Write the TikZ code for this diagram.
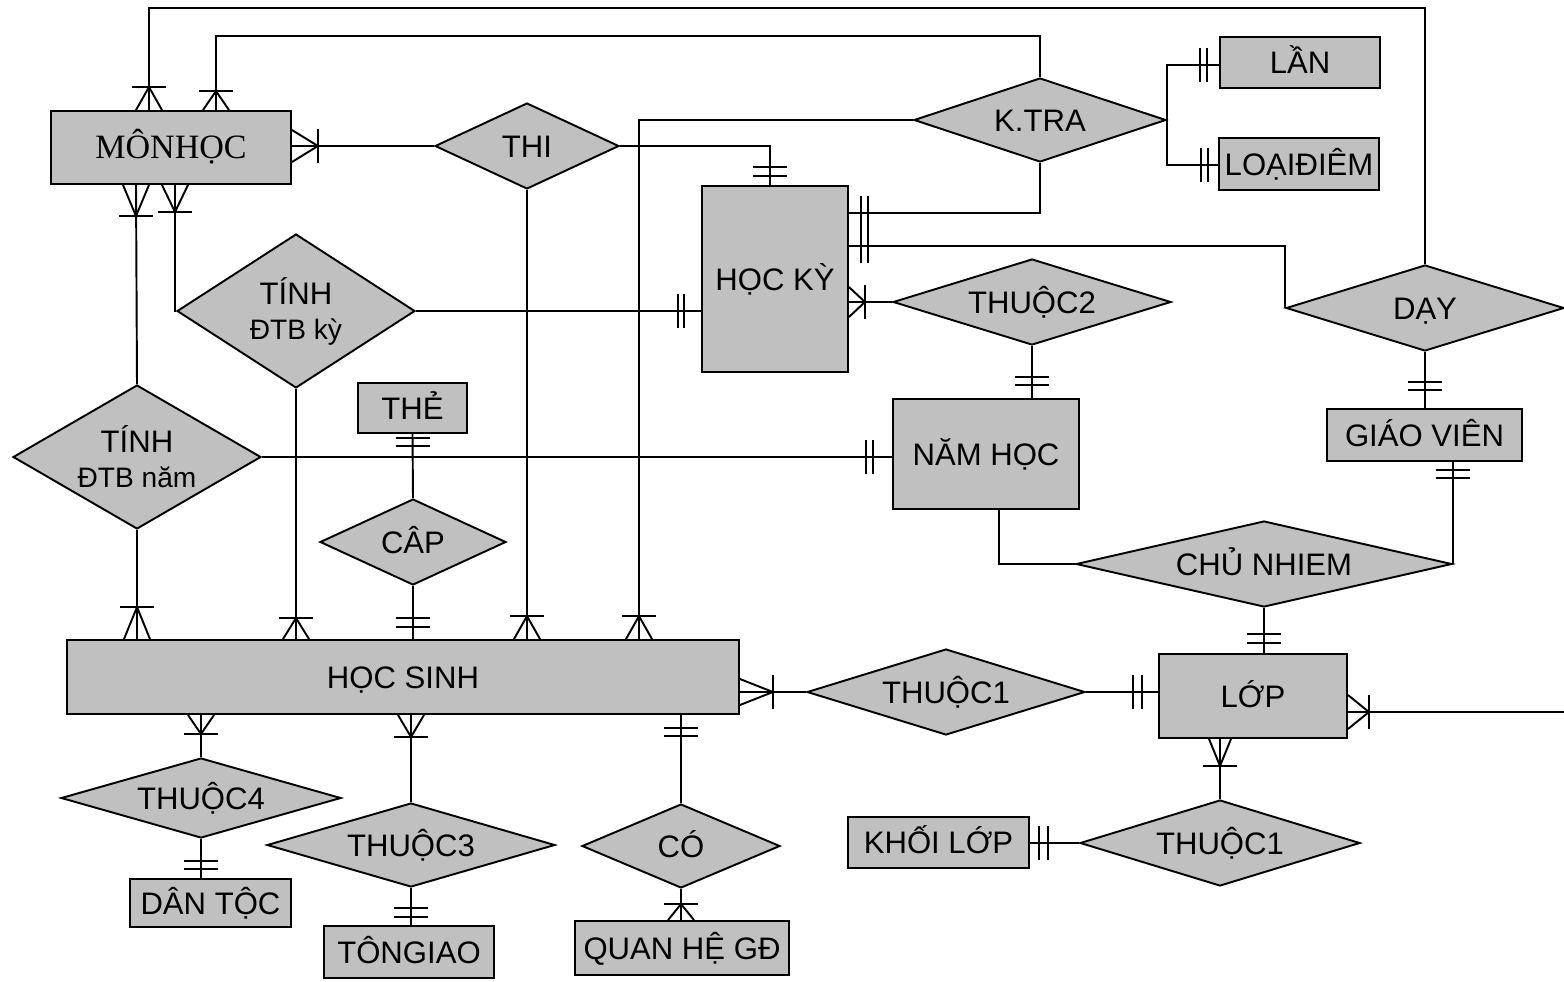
\documentclass[tikz,border=0pt]{standalone}
\usepackage{fontspec}
\setmainfont{Liberation Sans}
\newfontfamily\serifA{Liberation Serif}
\usetikzlibrary{shapes.geometric}
\definecolor{boxgray}{RGB}{192,192,192}
\def\cfL{24}\def\cfW{13}\def\cfA{13}\def\cfB{21}
\tikzset{
  cfl/.code={\def\cfL{#1}},
  cfw/.code={\def\cfW{#1}},
  cfa/.code={\def\cfA{#1}},
  cfb/.code={\def\cfB{#1}},
  cfmany/.pic={\draw (0,-\cfW) -- (\cfL,0) -- (0,\cfW); \draw (\cfL,-17) -- (\cfL,17);},
  cfone/.pic={\draw (\cfA,-17) -- (\cfA,17); \draw (\cfB,-17) -- (\cfB,17);},
  capcenter/.style={text height=12.7pt, text depth=0pt},
  ent/.style={draw, fill=boxgray, rectangle, inner sep=0pt, capcenter, font=\fontsize{17.7}{21}\selectfont},
  rel/.style={draw, fill=boxgray, diamond, inner sep=0pt, font=\fontsize{17.7}{21}\selectfont},
}
\begin{document}
\begin{tikzpicture}[x=0.02cm, y=-0.02cm, line width=1.1pt]
\useasboundingbox (0,0) rectangle (1564,981);

% entities
\node[ent, minimum width=4.8cm, minimum height=1.46cm, font=\serifA\fontsize{19.4}{22}\selectfont] (mh) at (171,147.5) {MÔNHỌC};
\node[ent, minimum width=2.92cm, minimum height=3.72cm] (hk) at (775,279) {HỌC KỲ};
\node[ent, minimum width=3.72cm, minimum height=2.2cm] (nh) at (986,454) {NĂM HỌC};
\node[ent, minimum width=3.2cm, minimum height=1.02cm] (lan) at (1300,62.5) {LẦN};
\node[ent, minimum width=3.2cm, minimum height=1.04cm] (ld) at (1299,164) {LOẠIĐIÊM};
\node[ent, minimum width=3.9cm, minimum height=1.04cm] (gv) at (1424.5,435) {GIÁO VIÊN};
\node[ent, minimum width=2.18cm, minimum height=1.0cm] (the) at (412.5,408) {THẺ};
\node[ent, minimum width=13.44cm, minimum height=1.48cm] (hs) at (403,677) {HỌC SINH};
\node[ent, minimum width=3.76cm, minimum height=1.68cm] (lop) at (1253,696) {LỚP};
\node[ent, minimum width=3.22cm, minimum height=0.96cm] (dt) at (210.5,903) {DÂN TỘC};
\node[ent, minimum width=3.4cm, minimum height=1.04cm] (tg) at (409,952) {TÔNGIAO};
\node[ent, minimum width=4.28cm, minimum height=1.08cm] (qh) at (682,948) {QUAN HỆ GĐ};
\node[ent, minimum width=3.62cm, minimum height=1.02cm] (kl) at (938.5,842.5) {KHỐI LỚP};

% relationships
\node[rel, capcenter, aspect=2.14, minimum width=3.68cm, minimum height=1.72cm] (thi) at (527,146) {THI};
\node[rel, capcenter, aspect=3.0, minimum width=5.04cm, minimum height=1.68cm] (ktra) at (1040,120) {K.TRA};
\node[rel, aspect=1.55, minimum width=4.76cm, minimum height=3.08cm, align=center] (tdk) at (296,311) {TÍNH\\[-1pt]\fontsize{16}{19}\selectfont ĐTB kỳ};
\node[rel, aspect=1.72, minimum width=4.96cm, minimum height=2.88cm, align=center] (tdn) at (137,457) {TÍNH\\[-1pt]\fontsize{16}{19}\selectfont ĐTB năm};
\node[rel, capcenter, aspect=3.23, minimum width=5.56cm, minimum height=1.72cm] (t2) at (1032,302) {THUỘC2};
\node[rel, capcenter, aspect=3.23, minimum width=5.56cm, minimum height=1.72cm] (day) at (1425,308) {DẠY};
\node[rel, capcenter, aspect=2.16, minimum width=3.72cm, minimum height=1.72cm] (cap) at (413,542) {CÂP};
\node[rel, capcenter, aspect=4.37, minimum width=7.52cm, minimum height=1.72cm] (cn) at (1264,564) {CHỦ NHIEM};
\node[rel, capcenter, aspect=3.23, minimum width=5.56cm, minimum height=1.72cm] (t1a) at (946,692) {THUỘC1};
\node[rel, capcenter, aspect=3.26, minimum width=5.6cm, minimum height=1.72cm] (t1b) at (1220,843) {THUỘC1};
\node[rel, capcenter, aspect=3.5, minimum width=5.6cm, minimum height=1.6cm] (t4) at (201,798) {THUỘC4};
\node[rel, capcenter, aspect=3.43, minimum width=5.76cm, minimum height=1.68cm] (t3) at (411,845) {THUỘC3};
\node[rel, capcenter, aspect=2.36, minimum width=3.96cm, minimum height=1.68cm] (co) at (681,846) {CÓ};
\coordinate (lopend) at (1564,712);

% connectors
\draw (mh.north -| 149,0) |- (day.north |- 0,8) -- (day.north);
\draw (mh.north -| 216,0) |- (ktra.north |- 0,36) -- (ktra.north);
\draw (mh.east |- thi.west) -- (thi.west);
\draw (thi.east) -| (hk.north -| 770,0);
\draw (thi.south) -- (thi.south |- hs.north);
\draw (ktra.west) -| (hs.north -| 639,0);
\draw (ktra.south) |- (hk.east |- 0,213);
\draw (hk.east |- 0,246) -| (day.west);
\draw (hk.east |- t2.west) -- (t2.west);
\draw (tdk.east) -- (hk.west |- tdk.east);
\draw (mh.south -| 175,0) |- (tdk.west);
\draw (mh.south -| 136,0) -- (tdn.north);
\draw (tdn.south) -- (tdn.south |- hs.north);
\draw (tdk.south) -- (tdk.south |- hs.north);
\draw (tdn.east) -- (nh.west |- tdn.east);
\draw (t2.south) -- (t2.south |- nh.north);
\draw (the.south) -- (cap.north);
\draw (cap.south) -- (cap.south |- hs.north);
\draw (nh.south -| 999,0) |- (cn.west);
\draw (day.south) -- (day.south |- gv.north);
\draw (gv.south -| cn.east) -- (cn.east);
\draw (cn.south) -- (cn.south |- lop.north);
\draw (hs.east |- t1a.west) -- (t1a.west);
\draw (t1a.east) -- (lop.west |- t1a.east);
\draw (lop.east |- lopend) -- (lopend);
\draw (lop.south -| t1b.north) -- (t1b.north);
\draw (kl.east |- t1b.west) -- (t1b.west);
\draw (hs.south -| t4.north) -- (t4.north);
\draw (t4.south) -- (t4.south |- dt.north);
\draw (hs.south -| t3.north) -- (t3.north);
\draw (t3.south) -- (t3.south |- tg.north);
\draw (hs.south -| co.north) -- (co.north);
\draw (co.south) -- (co.south |- qh.north);
\draw (lan.west |- 0,65) -| (ktra.east) |- (ld.west |- 0,165);

% cardinality marks
\pic[rotate=90, cfl=23] at (mh.north -| 149,0) {cfmany};
\pic[rotate=90, cfl=19] at (mh.north -| 216,0) {cfmany};
\pic[cfl=26, cfw=16] at (mh.east |- thi.west) {cfmany};
\pic[rotate=-90, cfl=31] at (mh.south -| 136,0) {cfmany};
\pic[rotate=-90, cfl=27] at (mh.south -| 175,0) {cfmany};
\pic[rotate=90, cfa=9, cfb=18] at (hk.north -| 770,0) {cfone};
\pic[cfa=12, cfb=19] at (hk.east |- 0,213) {cfone};
\pic[cfa=12, cfb=19] at (hk.east |- 0,246) {cfone};
\pic[cfl=16, cfw=15] at (hk.east |- t2.west) {cfmany};
\pic[rotate=180, cfa=17, cfb=23] at (hk.west |- tdk.east) {cfone};
\pic[rotate=90] at (t2.south |- nh.north) {cfone};
\pic[rotate=180, cfa=19, cfb=26] at (nh.west |- tdn.east) {cfone};
\pic[rotate=180, cfa=12, cfb=19] at (lan.west |- 0,65) {cfone};
\pic[rotate=180, cfa=10, cfb=17] at (ld.west |- 0,165) {cfone};
\pic[rotate=90, cfa=18, cfb=26] at (day.south |- gv.north) {cfone};
\pic[rotate=-90, cfa=8, cfb=16] at (gv.south -| cn.east) {cfone};
\pic[rotate=90, cfa=10, cfb=19] at (cn.south |- lop.north) {cfone};
\pic[rotate=180, cfa=16, cfb=25] at (lop.west |- t1a.east) {cfone};
\pic[cfl=21, cfw=17] at (lop.east |- lopend) {cfmany};
\pic[rotate=-90, cfl=27, cfw=11] at (lop.south -| t1b.north) {cfmany};
\pic[cfa=9, cfb=18] at (kl.east |- t1b.west) {cfone};
\pic[rotate=-90, cfa=4, cfb=12] at (the.south) {cfone};
\pic[rotate=90, cfa=12, cfb=21] at (cap.south |- hs.north) {cfone};
\pic[rotate=90, cfl=32] at (tdn.south |- hs.north) {cfmany};
\pic[rotate=90, cfl=21] at (tdk.south |- hs.north) {cfmany};
\pic[rotate=90, cfl=23] at (thi.south |- hs.north) {cfmany};
\pic[rotate=90, cfl=23] at (hs.north -| 639,0) {cfmany};
\pic[cfl=33, cfw=13] at (hs.east |- t1a.west) {cfmany};
\pic[rotate=-90, cfl=19] at (hs.south -| t4.north) {cfmany};
\pic[rotate=-90, cfl=22] at (hs.south -| t3.north) {cfmany};
\pic[rotate=-90, cfa=13, cfb=21] at (hs.south -| co.north) {cfone};
\pic[rotate=90, cfa=9, cfb=17] at (t4.south |- dt.north) {cfone};
\pic[rotate=90, cfa=8, cfb=17] at (t3.south |- tg.north) {cfone};
\pic[rotate=90, cfl=16] at (co.south |- qh.north) {cfmany};
\end{tikzpicture}
\end{document}
